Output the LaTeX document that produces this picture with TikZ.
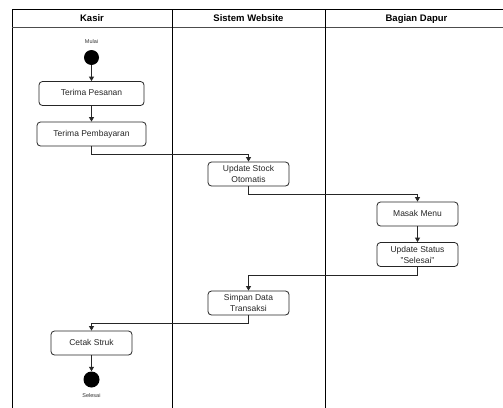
\documentclass[tikz,border=0pt]{standalone}
\usepackage{fontspec}
\setmainfont{Liberation Sans}
\usetikzlibrary{arrows.meta}
\begin{document}
\begin{tikzpicture}[x=1pt,y=-1pt,
  lane/.style={draw=black,line width=0.8pt},
  act/.style={draw=black!85,line width=0.8pt,rounded corners=3.5pt,fill=white,
    inner sep=0pt,minimum height=24pt,align=center,
    font=\fontsize{8.5}{11}\selectfont,text=black!85},
  one/.style={act,text height=6.2pt,text depth=1.6pt},
  dot/.style={circle,fill=black,inner sep=0pt},
  flow/.style={draw=black!85,line width=0.8pt,
    -{Triangle[length=4.5pt,width=5pt]}},
  hdr/.style={font=\fontsize{9.5}{11}\bfseries\selectfont,
    text height=7pt,text depth=2pt,inner sep=0pt},
  tiny/.style={font=\fontsize{5.5}{6}\selectfont,text=black!80}]
\useasboundingbox (0,0) rectangle (503,407);
\fill[white] (0,0) rectangle (503,407);

% swimlane frame
\begin{scope}
\clip (0,0) rectangle (503,407);
\draw[lane] (12,420) -- (12,9) -- (515,9);
\draw[lane,draw=black!70] (12,27.5) -- (515,27.5);
\draw[lane] (172,9) -- (172,420);
\draw[lane] (325,9) -- (325,420);
\end{scope}

% lane titles
\node[hdr] (hkasir) at (92,18.5) {Kasir};
\node[hdr] (hweb)   at (248.5,18.5) {Sistem Website};
\node[hdr] (hdapur) at (416.5,18.5) {Bagian Dapur};

% start and end
\node[tiny] (lmulai) at (91.5,41.5) {Mulai};
\node[dot,minimum size=15pt] (start) at (91.5,57.5) {};
\node[dot,minimum size=16pt] (stop) at (91.5,379.5) {};
\node[tiny] (lselesai) at (91.5,396) {Selesai};

% activities
\node[one,minimum width=105pt] (pesan) at (91.5,93.5) {Terima Pesanan};
\node[one,minimum width=109pt] (bayar) at (91.5,134) {Terima Pembayaran};
\node[act,minimum width=81pt] (stock) at (248.5,174) {Update Stock\\Otomatis};
\node[one,minimum width=81pt] (masak) at (417.5,214) {Masak Menu};
\node[act,minimum width=81pt] (status) at (417.5,254.5) {Update Status\\"Selesai"};
\node[act,minimum width=81pt] (simpan) at (248.5,303) {Simpan Data\\Transaksi};
\node[one,minimum width=81pt] (struk) at (91.5,343) {Cetak Struk};

% control flow
\draw[flow] (start) -- (pesan);
\draw[flow] (pesan) -- (bayar);
\draw[flow] (bayar.south) -- ++(0,8) -| (stock.north);
\draw[flow] (stock.south) -- ++(0,8) -| (masak.north);
\draw[flow] (masak) -- (status);
\draw[flow] (status.south) -- ++(0,8) -| (simpan.north);
\draw[flow] (simpan.south) -- ++(0,8) -| (struk.north);
\draw[flow] (struk) -- (stop);
\end{tikzpicture}
\end{document}
